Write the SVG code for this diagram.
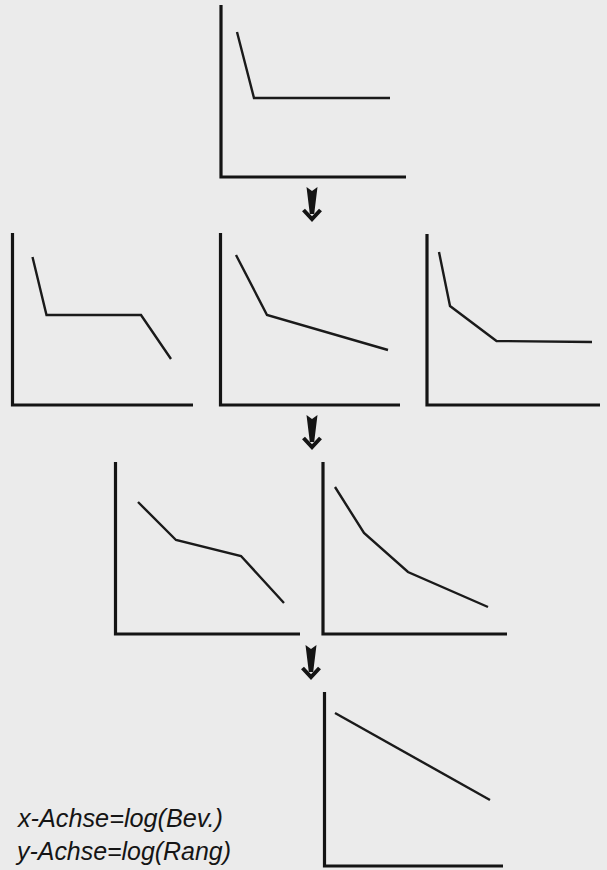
<svg xmlns="http://www.w3.org/2000/svg" xmlns:xlink="http://www.w3.org/1999/xlink" width="607" height="870" viewBox="0 0 607 870">
<style>
.axis{fill:none;stroke:#141414;stroke-width:3.2;stroke-linejoin:miter;stroke-linecap:butt}
.curve{fill:none;stroke:#1a1a1a;stroke-width:2.4;stroke-linejoin:miter;stroke-linecap:butt}
.lbl{font-family:"Liberation Sans",Arial,sans-serif;font-style:italic;font-size:25px;fill:#151515}
</style>
<defs>
<g id="arrow">
<path d="M-5.5,0 L0,4 L5.5,0 L2.2,27 L-2.2,27 Z" fill="#141414"/>
<polyline points="-8.5,23 0,32 8.5,23" fill="none" stroke="#141414" stroke-width="4" stroke-linejoin="miter"/>
</g>
</defs>
<rect x="0" y="0" width="607" height="870" fill="#ebebeb"/>

<g id="chart1">
<polyline class="axis" points="221,5 221,177 406,177"/>
<polyline class="curve" points="237,32 254,98 390,98"/>
</g>

<g id="chart2a">
<polyline class="axis" points="12.5,233 12.5,405 193,405"/>
<polyline class="curve" points="32.5,257 46.5,315 141,315 171,359"/>
</g>

<g id="chart2b">
<polyline class="axis" points="220.5,233 220.5,405 400,405"/>
<polyline class="curve" points="236,255 267,315 388,350"/>
</g>

<g id="chart2c">
<polyline class="axis" points="427,234 427,405 600,405"/>
<polyline class="curve" points="439,252 450,306 496.5,341 592,342"/>
</g>

<g id="chart3a">
<polyline class="axis" points="115.5,462 115.5,634 300,634"/>
<polyline class="curve" points="138,502 176,540 241,556 284,603"/>
</g>

<g id="chart3b">
<polyline class="axis" points="323,462 323,634 507,634"/>
<polyline class="curve" points="335,487 364,533 408,572 488,607"/>
</g>

<g id="chart4">
<polyline class="axis" points="324.5,692 324.5,866 503,866"/>
<polyline class="curve" points="335,713 490,800"/>
</g>

<g id="connectors">
<use xlink:href="#arrow" transform="translate(312,187)"/>
<use xlink:href="#arrow" transform="translate(312,415)"/>
<use xlink:href="#arrow" transform="translate(311,645)"/>
</g>

<g id="legend">
<text class="lbl" x="18" y="827" textLength="205" lengthAdjust="spacingAndGlyphs">x-Achse=log(Bev.)</text>
<text class="lbl" x="17" y="860" textLength="214" lengthAdjust="spacingAndGlyphs">y-Achse=log(Rang)</text>
</g>
</svg>
